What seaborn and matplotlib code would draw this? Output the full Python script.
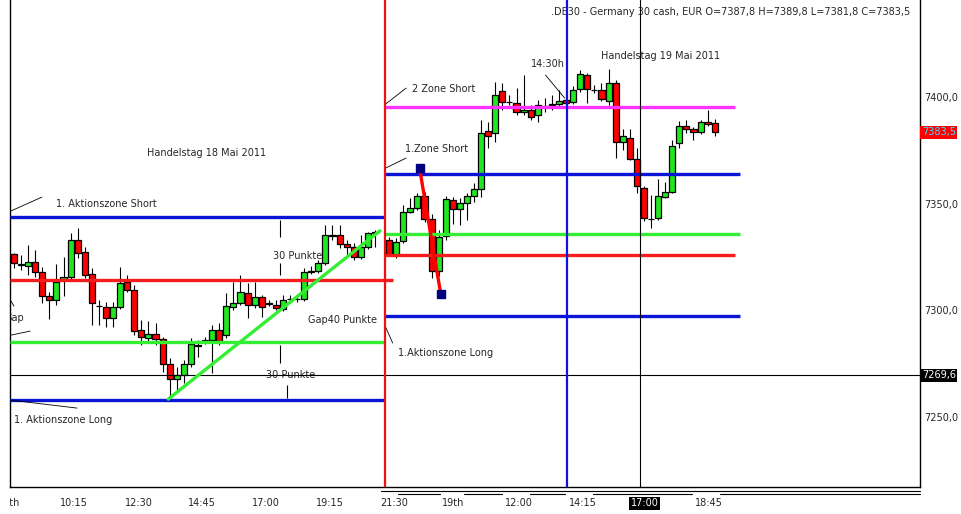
import numpy as np
import pandas as pd
import matplotlib
matplotlib.use("Agg")
import matplotlib.pyplot as plt
import seaborn as sns
from matplotlib.transforms import Bbox

# 15-minute candles, DAX cash, 18 May 2011
open_18 = [7326.4, 7321.5, 7320.8, 7322.6, 7318.0, 7306.7, 7304.8, 7314.9, 7315.6, 7333.0,
           7327.3, 7317.0, 7302.2, 7301.5, 7296.4, 7301.5, 7313.3, 7309.5, 7290.8, 7287.0,
           7288.9, 7286.6, 7274.8, 7267.8, 7269.7, 7274.8, 7283.3, 7285.1, 7286.1, 7290.8,
           7288.4, 7301.5, 7303.4, 7308.1, 7302.5, 7306.2, 7303.6, 7302.5, 7300.6, 7305.1,
           7305.3, 7305.3, 7318.2, 7318.4, 7322.2, 7335.1, 7335.3, 7331.1, 7329.7, 7325.0,
           7329.7, 7336.5]
high_18 = [7327.0, 7326.0, 7330.6, 7328.3, 7320.3, 7308.6, 7321.7, 7325.0, 7336.2, 7338.6,
           7329.7, 7319.8, 7304.8, 7303.9, 7303.9, 7320.3, 7316.6, 7311.9, 7295.5, 7295.0,
           7294.1, 7287.5, 7277.6, 7273.4, 7276.7, 7287.0, 7286.1, 7287.5, 7293.1, 7294.1,
           7308.1, 7313.3, 7316.6, 7312.8, 7313.3, 7307.2, 7304.8, 7304.8, 7307.2, 7307.2,
           7306.7, 7319.8, 7320.8, 7323.6, 7340.0, 7340.0, 7340.0, 7333.0, 7331.6, 7335.3,
           7336.7, 7337.6]
low_18 = [7319.8, 7318.9, 7316.6, 7315.6, 7303.4, 7296.0, 7302.5, 7306.7, 7314.2, 7324.5,
          7315.1, 7293.1, 7293.1, 7292.2, 7292.2, 7300.6, 7308.6, 7288.4, 7283.7, 7285.1,
          7283.7, 7271.1, 7259.4, 7262.6, 7265.9, 7273.4, 7278.1, 7284.2, 7270.6, 7283.7,
          7287.0, 7300.1, 7302.5, 7296.4, 7301.1, 7296.9, 7302.0, 7300.1, 7299.7, 7303.4,
          7304.0, 7304.4, 7317.0, 7317.5, 7321.2, 7333.0, 7329.2, 7326.0, 7323.6, 7324.1,
          7328.8, 7329.7]
close_18 = [7322.2, 7321.9, 7322.6, 7318.0, 7306.7, 7304.8, 7313.3, 7315.6, 7333.0, 7326.9,
            7316.6, 7303.4, 7302.0, 7296.4, 7301.5, 7312.8, 7309.5, 7290.3, 7287.5, 7288.9,
            7286.6, 7274.8, 7267.8, 7269.7, 7274.8, 7284.2, 7283.7, 7286.1, 7290.8, 7285.6,
            7302.0, 7303.4, 7308.6, 7302.5, 7306.2, 7301.5, 7303.2, 7301.1, 7304.8, 7305.5,
            7305.5, 7318.0, 7318.6, 7322.2, 7335.3, 7335.5, 7331.1, 7329.7, 7325.0, 7329.7,
            7336.2, 7336.9]

# 19 May 2011
open_19 = [7333.0, 7326.0, 7332.5, 7346.1, 7348.0, 7353.6, 7342.8, 7318.4, 7334.8, 7351.7,
           7347.5, 7350.3, 7353.6, 7356.9, 7384.1, 7383.1, 7402.8, 7397.8, 7397.2, 7393.0,
           7393.9, 7391.6, 7395.6, 7396.5, 7396.7, 7398.6, 7397.7, 7403.7, 7410.3, 7403.1,
           7403.3, 7398.1, 7406.6, 7378.9, 7380.8, 7370.9, 7357.3, 7342.7, 7343.3, 7353.1,
           7355.5, 7378.4, 7386.4, 7385.0, 7383.6, 7388.3, 7387.8]
high_19 = [7334.4, 7333.9, 7349.4, 7352.7, 7355.0, 7355.5, 7345.1, 7337.6, 7353.6, 7353.1,
           7352.7, 7355.0, 7359.7, 7389.2, 7388.3, 7407.0, 7406.6, 7400.9, 7404.2, 7410.3,
           7396.3, 7398.6, 7399.5, 7400.9, 7403.3, 7401.4, 7405.1, 7412.6, 7411.2, 7405.6,
           7406.6, 7413.1, 7408.0, 7385.0, 7385.0, 7376.1, 7358.3, 7354.1, 7361.6, 7360.1,
           7379.8, 7388.8, 7389.2, 7385.9, 7389.2, 7393.9, 7389.8]
low_19 = [7325.5, 7324.5, 7331.6, 7345.6, 7347.0, 7341.4, 7315.1, 7316.1, 7333.0, 7340.5,
          7340.0, 7342.3, 7350.8, 7353.1, 7376.1, 7378.9, 7393.9, 7396.3, 7391.6, 7391.6,
          7389.2, 7388.3, 7393.0, 7393.9, 7395.3, 7395.8, 7396.7, 7402.3, 7397.2, 7401.9,
          7398.1, 7396.3, 7371.4, 7375.2, 7370.5, 7355.0, 7341.9, 7338.6, 7342.3, 7352.7,
          7355.0, 7376.1, 7383.1, 7379.8, 7382.6, 7386.4, 7381.8]
close_19 = [7326.4, 7332.0, 7346.1, 7348.0, 7353.6, 7342.8, 7318.4, 7334.4, 7352.2, 7347.5,
            7350.3, 7353.6, 7356.9, 7383.1, 7381.7, 7400.9, 7397.7, 7397.6, 7393.0, 7393.9,
            7390.6, 7396.3, 7396.0, 7396.9, 7398.1, 7397.2, 7403.3, 7410.8, 7403.7, 7403.4,
            7399.1, 7406.6, 7378.9, 7381.7, 7370.9, 7358.3, 7343.3, 7342.9, 7353.6, 7355.5,
            7377.0, 7386.4, 7385.0, 7383.6, 7388.3, 7387.3, 7383.5]

# zone levels
zones_18 = {"blue_short": 7343.7, "red": 7314.2, "green": 7285.0, "blue_long": 7258.0}
zones_19 = {"magenta": 7395.3, "blue_short": 7363.9, "green": 7335.6, "red": 7326.0, "blue_long": 7297.3}
cross_price = 7269.6

# bar-slot positions of the markers
day_split = 52.4
marker_1430 = 78.1
cross_slot = 88.4
zone19_end = 102.6

trend_x = [21.8, 51.7]
trend_y = [7258.4, 7337.3]
drop_x = [57.3, 60.3]
drop_y = [7366.7, 7307.6]

price_ticks = [7250, 7300, 7350, 7400]
time_labels = ["18th", "10:15", "12:30", "14:45", "17:00", "19:15", "21:30",
               "19th", "12:00", "14:15", "17:00", "18:45"]
time_pos = [-0.5, 6.5, 15.7, 24.6, 33.6, 42.7, 51.7, 60.5, 69.4, 78.4, 87.1, 96.2]

GREEN = "#22e622"
RED = "#ff0000"
BLUE = "#0a14d6"
LGREEN = "#33ee33"
ZRED = "#f41c1c"
MAG = "#ff33ff"

n18 = len(open_18)
df = pd.DataFrame({
    "slot": list(range(n18)) + list(range(n18 + 1, n18 + 1 + len(open_19))),
    "open": open_18 + open_19,
    "high": high_18 + high_19,
    "low": low_18 + low_19,
    "close": close_18 + close_19,
})
df["up"] = df["close"] >= df["open"]

sns.set_style("white")
plt.rcParams["font.family"] = ["DejaVu Sans"]

fig = plt.figure(figsize=(9.62, 5.14), dpi=100)
ax = fig.add_axes([10 / 962, 27 / 514, 910 / 962, 487 / 514])
ax.set_xlim(-0.56, 128.0)
ax.set_ylim(7217.2, 7445.5)

# candles
ax.vlines(df["slot"], df["low"], df["high"], color="black", lw=0.8, zorder=2)
body = (df["close"] - df["open"]).abs().clip(lower=0.25)
ax.bar(df["slot"], body, bottom=np.minimum(df["open"], df["close"]), width=0.86,
       color=np.where(df["up"], GREEN, RED), edgecolor="black", linewidth=0.9, zorder=3)

# zone lines
left = -0.56
ax.hlines(zones_18["blue_short"], left, day_split, color=BLUE, lw=2.4, zorder=4)
ax.hlines(zones_18["red"], left, 53.5, color=ZRED, lw=2.4, zorder=4)
ax.hlines(zones_18["green"], left, day_split, color=LGREEN, lw=2.4, zorder=4)
ax.hlines(zones_18["blue_long"], left, day_split, color=BLUE, lw=2.4, zorder=4)
ax.hlines(zones_19["magenta"], day_split, zone19_end - 0.8, color=MAG, lw=2.4, zorder=4)
ax.hlines(zones_19["blue_short"], day_split, zone19_end, color=BLUE, lw=2.4, zorder=4)
ax.hlines(zones_19["green"], day_split, zone19_end, color=LGREEN, lw=2.4, zorder=4)
ax.hlines(zones_19["red"], day_split, zone19_end - 0.8, color=ZRED, lw=2.4, zorder=4)
ax.hlines(zones_19["blue_long"], day_split, zone19_end, color=BLUE, lw=2.4, zorder=4)

# crosshair and vertical markers
ax.axhline(cross_price, color="black", lw=0.8, zorder=5)
ax.axvline(cross_slot, color="black", lw=0.8, zorder=5)
ax.axvline(day_split, color="#ee1111", lw=1.6, zorder=6)
ax.axvline(marker_1430, color="#1010e0", lw=1.6, zorder=6)

# trend line and drop line
sns.lineplot(x=trend_x, y=trend_y, ax=ax, color=LGREEN, lw=2.4, zorder=7)
ax.plot(drop_x, drop_y, color=RED, lw=2.4, zorder=7)
ax.plot(drop_x, drop_y, ls="none", marker="s", ms=5.5, color="#000080", zorder=8)

# measuring ticks
for x0, y0, y1 in [(37.6, 7334.4, 7342.3), (37.6, 7316.6, 7322.2),
                   (37.6, 7275.3, 7283.7), (38.6, 7258.9, 7265.0)]:
    ax.vlines(x0, y0, y1, color="black", lw=0.8, zorder=5)

# leader lines
for xs, ys in [([-0.42, 3.95], [7346.6, 7353.1]),
               ([-0.42, 0.0], [7304.4, 7302.0]),
               ([-0.42, 2.3], [7288.4, 7290.3]),
               ([-0.42, 8.9], [7257.9, 7254.2]),
               ([52.5, 53.5], [7292.2, 7284.7]),
               ([52.5, 55.4], [7396.7, 7404.2]),
               ([52.5, 55.4], [7366.7, 7371.4]),
               ([75.1, 77.8], [7410.3, 7399.5])]:
    ax.plot(xs, ys, color="black", lw=0.6, zorder=5)

# annotations
fs = 7
notes = [(18.8, 7373.7, "Handelstag 18 Mai 2011"),
         (5.9, 7349.8, "1. Aktionszone Short"),
         (36.6, 7325.5, "30 Punkte"),
         (41.5, 7295.5, "Gap40 Punkte"),
         (35.6, 7269.7, "30 Punkte"),
         (-1.4, 7296.4, "Gap"),
         (0.0, 7248.6, "1. Aktionszone Long"),
         (54.2, 7280.0, "1.Aktionszone Long"),
         (56.2, 7403.7, "2 Zone Short"),
         (55.2, 7375.6, "1.Zone Short"),
         (73.0, 7415.5, "14:30h"),
         (82.9, 7419.2, "Handelstag 19 Mai 2011")]
for x0, y0, s in notes:
    ax.text(x0, y0, s, fontsize=fs, ha="left", va="center", zorder=4, clip_on=True)

last = df.iloc[-1]
header = ".DE30 - Germany 30 cash, EUR O={:.1f} H={:.1f} L={:.1f} C={:.1f}".format(
    last["open"], last["high"], last["low"], last["close"]).replace(".", ",").replace(",DE30", ".DE30")
ax.text(75.8, 7439.8, header, fontsize=7, ha="left", va="center", zorder=1)

# axes styling
for side in ["left", "bottom", "right"]:
    ax.spines[side].set_color("black")
    ax.spines[side].set_linewidth(1.0)
ax.spines["top"].set_visible(False)
ax.yaxis.tick_right()
ax.set_yticks(price_ticks)
ax.set_yticklabels([f"{p:.1f}".replace(".", ",") for p in price_ticks], fontsize=7)
ax.tick_params(axis="y", length=0, pad=3)
ax.set_xticks([])

bbox_kw = dict(boxstyle="square,pad=0.15", edgecolor="none")
ax.text(1.002, cross_price, f"{cross_price:.1f}".replace(".", ","), transform=ax.get_yaxis_transform(),
        fontsize=7, color="white", va="center", ha="left", bbox=dict(facecolor="black", **bbox_kw))
ax.text(1.002, last["close"], f"{last['close']:.1f}".replace(".", ","), transform=ax.get_yaxis_transform(),
        fontsize=7, color="#33e0ff", va="center", ha="left", bbox=dict(facecolor="#ff0000", **bbox_kw))

# time labels under the axis
clip = Bbox.from_extents(10, 0, 962, 514)
xform = ax.get_xaxis_transform()
for x0, s in zip(time_pos, time_labels):
    if s == "17:00" and x0 > 80:
        ax.text(x0, -0.033, s, transform=xform, fontsize=7, ha="left", va="center",
                color="white", bbox=dict(facecolor="black", **bbox_kw), clip_on=False)
    elif x0 < 0:
        t = ax.text(0.9, -0.033, s, transform=xform, fontsize=7, ha="right", va="center", clip_on=False)
        t.set_clip_box(clip)
        t.set_clip_on(True)
    else:
        ax.text(x0, -0.033, s, transform=xform, fontsize=7, ha="left", va="center", clip_on=False)

# date bar under the right part of the axis
ax.plot([day_split - 0.5, 128.0], [-0.008, -0.008], transform=xform, color="black", lw=0.8, clip_on=False)
for a, b in [(54.2, 60.2), (63.6, 68.9), (72.9, 77.8), (81.8, 95.8), (99.7, 128.0)]:
    ax.plot([a, b], [-0.014, -0.014], transform=xform, color="black", lw=0.8, clip_on=False)

fig.savefig("out.png", dpi=100)
